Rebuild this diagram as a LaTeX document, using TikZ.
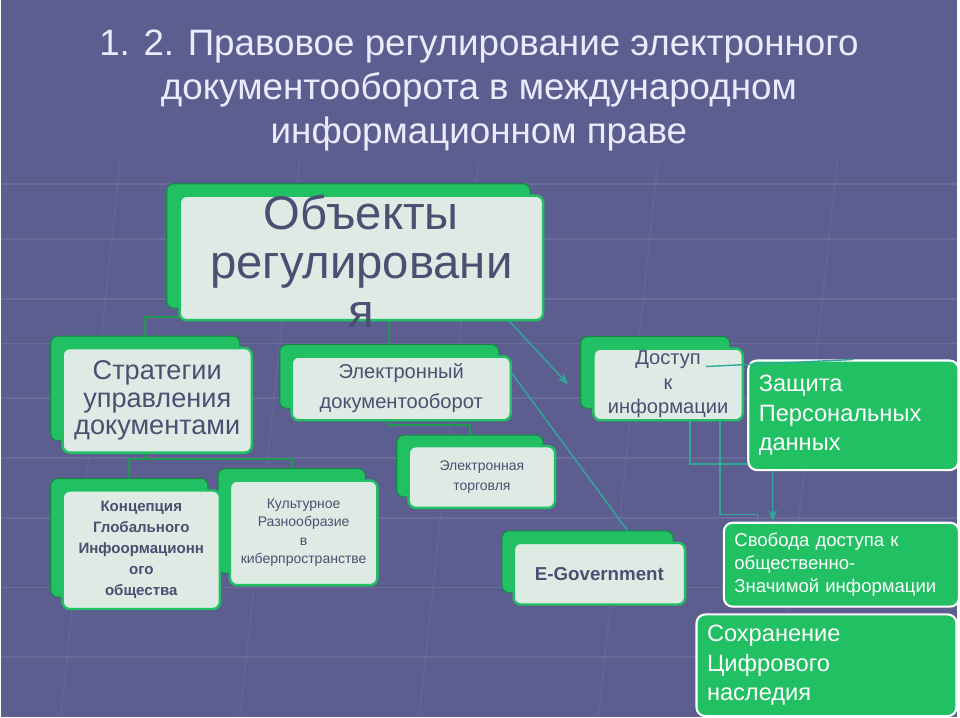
\documentclass[tikz,border=0pt]{standalone}
\usepackage{fontspec}
\setmainfont{Liberation Sans}
\usetikzlibrary{arrows.meta}
\definecolor{bgpurple}{HTML}{5C5E90}
\definecolor{gridline}{HTML}{7678A6}
\definecolor{boxgreen}{HTML}{21C063}
\definecolor{boxlight}{HTML}{DDEBE4}
\definecolor{boxtext}{HTML}{4B5072}
\definecolor{treeline}{HTML}{1E9A50}
\definecolor{linkline}{HTML}{2FA89A}

\begin{document}
\begin{tikzpicture}[x=0.02cm,y=-0.02cm,>=Stealth,
    backbox/.style={rectangle,rounded corners=4pt,draw=boxgreen!70!black,line width=0.6pt,fill=boxgreen},
    frontbox/.style={rectangle,rounded corners=4pt,draw=boxgreen,line width=1.4pt,fill=boxlight,text=boxtext,align=center,inner sep=1pt},
    solidbox/.style={rectangle,rounded corners=5pt,draw=white,line width=1.2pt,fill=boxgreen,text=white,align=left,inner sep=6pt},
    tree/.style={draw=treeline,line width=1pt},
    link/.style={draw=linkline,line width=0.8pt}]

    % background
    \fill[bgpurple] (0,0) rectangle (960,720);
    \foreach \yy in {185,240,300,345,400,460,520,590,660}
        \draw[gridline,line width=1pt,opacity=0.5] (0,\yy) -- (960,\yy);
    \foreach \xx in {120,300,480,660,840}
        \draw[gridline,line width=0.8pt,opacity=0.3] (\xx,160) -- (\xx-60,720);

    % title
    \node (title) [text=white!92!blue,font=\fontsize{21}{25}\selectfont,align=center] at (480,91)
        {1. 2. Правовое регулирование электронного\\документооборота в международном\\информационном праве};

    % green back boxes
    \node[backbox,minimum width=7.3cm,minimum height=2.5cm] (objB) at (349,247) {};
    \node[backbox,minimum width=3.8cm,minimum height=2.1cm] (stratB) at (145,390) {};
    \node[backbox,minimum width=4.4cm,minimum height=1.28cm] (edoB) at (390,378) {};
    \node[backbox,minimum width=2.94cm,minimum height=1.24cm] (torgB) at (471,468) {};
    \node[backbox,minimum width=3.16cm,minimum height=2.38cm] (concB) at (129,540) {};
    \node[backbox,minimum width=2.96cm,minimum height=2.1cm] (cultB) at (292,523) {};
    \node[backbox,minimum width=3.44cm,minimum height=1.24cm] (egovB) at (589,564) {};
    \node[backbox,minimum width=3.0cm,minimum height=1.44cm] (dostupB) at (657,374) {};

    % tree connectors
    \draw[tree] (objB.south) -- ++(0,8) -| (stratB.north);
    \draw[tree] (objB.south) -- ++(0,8) -| (edoB.north);
    \draw[tree] (stratB.south) -- ++(0,18) -| (concB.north);
    \draw[tree] (stratB.south) -- ++(0,18) -| (cultB.north);
    \draw[tree] (edoB.south) -- ++(0,16) -| (torgB.north);

    % light front boxes
    \node[frontbox,minimum width=7.3cm,minimum height=2.5cm] (obj) at (362,259) {};
    \node (objT) [text=boxtext,align=center,font=\fontsize{27}{28}\selectfont] at (362,262)
        {Объекты\\регулировани\\я};
    \node[frontbox,minimum width=3.8cm,minimum height=2.1cm,font=\fontsize{15.5}{15.5}\selectfont] (strat) at (157,402)
        {Стратегии\\управления\\документами};
    \node[frontbox,minimum width=4.4cm,minimum height=1.28cm,font=\fontsize{11.5}{17}\selectfont] (edo) at (402,390)
        {Электронный\\документооборот};
    \node[frontbox,minimum width=2.94cm,minimum height=1.24cm,font=\fontsize{8}{11}\selectfont] (torg) at (483,479)
        {Электронная\\торговля};
    \node[frontbox,minimum width=3.16cm,minimum height=2.38cm,font=\bfseries\fontsize{8.6}{12}\selectfont] (conc) at (141,552)
        {Концепция\\Глобального\\Инфоормационн\\ого\\общества};
    \node[frontbox,minimum width=2.96cm,minimum height=2.1cm,font=\fontsize{8}{10.5}\selectfont] (cult) at (304,535)
        {Культурное\\Разнообразие\\в\\киберпространстве};
    \node[frontbox,minimum width=3.44cm,minimum height=1.24cm,font=\bfseries\fontsize{10.7}{11}\selectfont] (egov) at (601,576)
        {E-Government};
    \node[frontbox,minimum width=3.0cm,minimum height=1.44cm,font=\fontsize{11.5}{14}\selectfont] (dostup) at (670,386)
        {Доступ\\к\\информации};

    % solid green boxes
    \node[solidbox,minimum width=4.16cm,minimum height=2.2cm,text width=3.8cm,font=\fontsize{13.5}{17}\selectfont] (zashch) at (856,417)
        {Защита\\Персональных\\данных};
    \node[solidbox,minimum width=4.56cm,minimum height=1.6cm,text width=4.3cm,font=\fontsize{10.6}{13}\selectfont] (svob) at (844,567)
        {Свобода доступа к\\общественно-\\Значимой информации};
    \node[solidbox,minimum width=5.16cm,minimum height=2.0cm,text width=4.8cm,font=\fontsize{13.5}{17}\selectfont] (sohr) at (829,668)
        {Сохранение\\Цифрового\\наследия};

    % links
    \draw[link,->] ([xshift=-0.7cm]obj.south east) -- ([xshift=-0.24cm,yshift=-0.24cm]dostupB.west);
    \draw[link] ([yshift=0.3cm]edo.east) -- ([xshift=0.8cm]egovB.north);
    \draw[link] ([xshift=0.76cm,yshift=0.36cm]dostup.center) -- (zashch.north);
    \draw[link] ([xshift=0.44cm]dostup.south) |- ([yshift=0.14cm]zashch.south west);
    \draw[link] ([xshift=1.04cm]dostup.south) |- ([xshift=-1.68cm,yshift=0.14cm]svob.north) -- ([xshift=-1.68cm]svob.north);
    \draw[link,->] ([xshift=-1.62cm]zashch.south) -- ([xshift=-1.38cm]svob.north);
\end{tikzpicture}
\end{document}
